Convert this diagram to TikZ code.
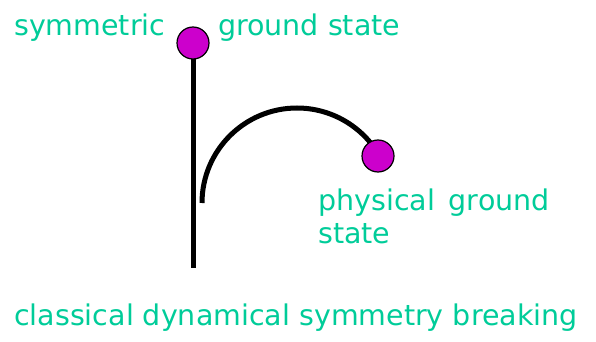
\documentclass[tikz,border=0pt]{standalone}
\usepackage{fontspec}
\setmainfont{DejaVu Sans}
\definecolor{txtgreen}{RGB}{0,204,153}
\definecolor{ballmag}{RGB}{204,0,204}
\tikzset{
  lbl/.style={text=txtgreen, font=\fontsize{28.5}{32}\selectfont, inner sep=0pt, anchor=base west},
  ball/.style={circle, draw=black, line width=1.2pt, fill=ballmag, minimum size=32pt, inner sep=0pt},
  stem/.style={line width=5pt, black}
}
\begin{document}
\begin{tikzpicture}[x=1pt,y=-1pt]
\useasboundingbox (0,0) rectangle (596,342);
\coordinate (bottom) at (193,268);
\coordinate (arcstart) at (202,203);
\draw[stem] (193,55) -- (bottom);
\draw[stem] (arcstart) arc[start angle=180, end angle=30, x radius=95, y radius=-95] coordinate (arcend);
\node[ball] (top) at (193,43) {};
\node[ball] (phys) at (378,156) {};
\node[lbl] (sym) at (14,36) {symmetric};
\node[lbl] (gs) at (218,36) {ground state};
\node[lbl] (pg) at (318,210) {physical\, ground};
\node[lbl] (st) at (318,243) {state};
\node[lbl] (cl) at (14,325) {classical dynamical symmetry breaking};
\end{tikzpicture}
\end{document}
